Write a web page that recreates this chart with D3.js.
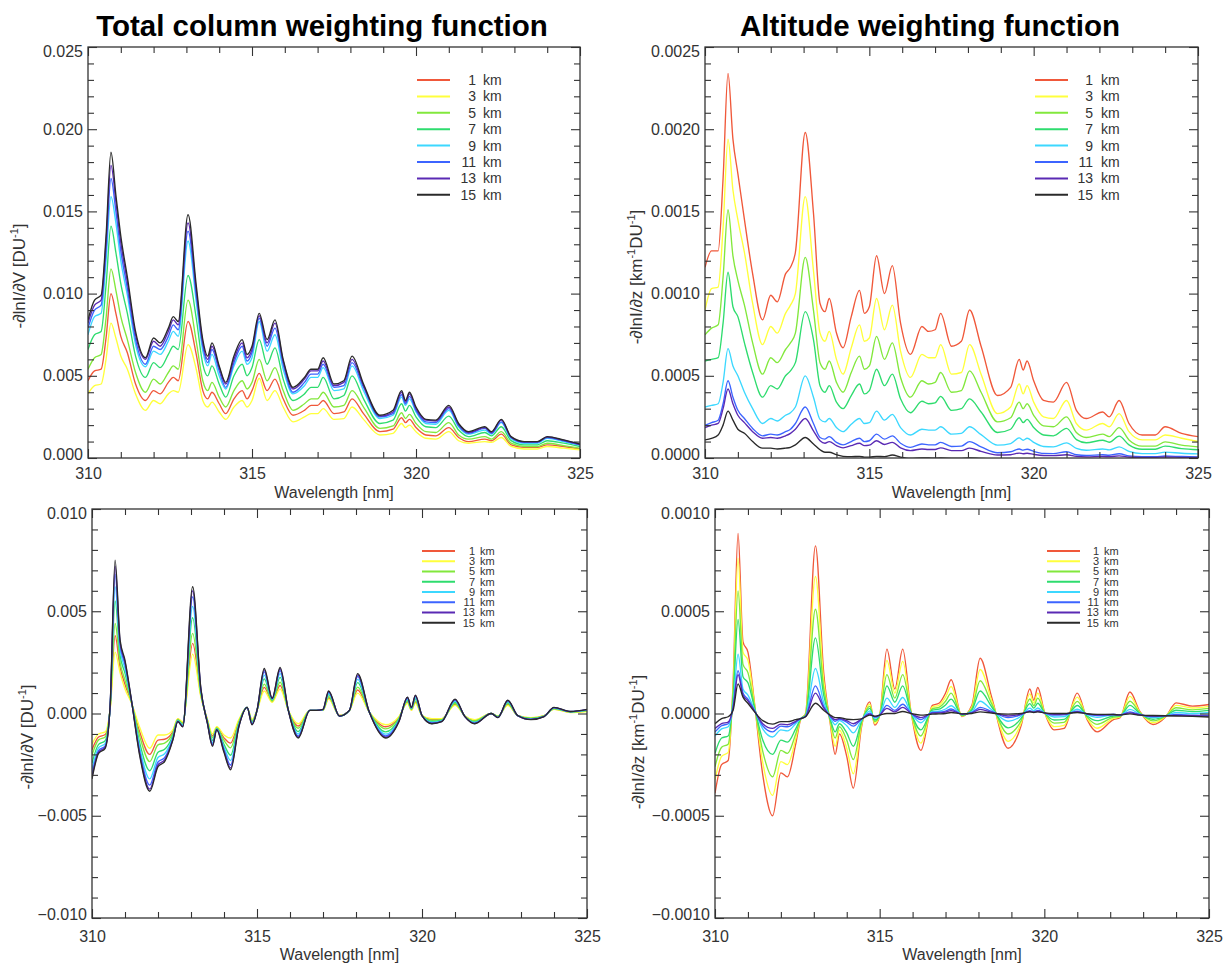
<!DOCTYPE html>
<html>
<head>
<meta charset="utf-8">
<script src="https://cdn.jsdelivr.net/npm/d3@7"></script>
<style>
  body { margin: 0; background: #fff; }
  svg { display: block; }
</style>
</head>
<body>
<svg id="chart" width="1227" height="963"></svg>
<script>
// Sample wavelengths (nm), shared by every spectrum below
const wavelength = [310.0, 310.2, 310.4, 310.55, 310.7, 310.85, 311.0, 311.2, 311.45, 311.75,
  312.0, 312.2, 312.45, 312.6, 312.75, 313.05, 313.3, 313.5, 313.65, 313.78,
  314.0, 314.2, 314.45, 314.7, 314.85, 315.0, 315.22, 315.46, 315.7, 315.95,
  316.25, 316.6, 316.8, 317.0, 317.17, 317.5, 317.8, 318.05, 318.4, 318.9,
  319.3, 319.56, 319.68, 319.8, 320.0, 320.3, 320.6, 321.0, 321.3, 321.6,
  322.1, 322.3, 322.6, 322.9, 323.3, 323.7, 324.0, 324.5, 325.0];

// Layer altitudes and their line colours
const kmLabels = ['1', '3', '5', '7', '9', '11', '13', '15'];
const lineColors = ['#f0583a', '#ffff3c', '#82e83c', '#2edc6e', '#3cd8ff', '#3c64ff', '#5a2ab4', '#2a2a2a'];

// Total column weighting function, -dlnI/dV  (units of 1e-3 DU^-1)
const colWf1 = [4.7, 5.3, 5.4, 7.3, 10.0, 8.8, 7.4, 6.4, 4.5, 3.5, 4.1, 3.9, 4.6, 4.9, 4.7, 8.3, 6.3, 4.1, 3.6, 4.0, 3.3, 2.7, 3.6, 4.1, 3.6, 4.1, 5.15, 4.1, 4.8, 3.6, 2.6, 2.9, 3.2, 3.2, 3.5, 2.7, 2.8, 3.6, 2.7, 1.6, 1.75, 2.45, 2.15, 2.35, 1.85, 1.4, 1.35, 1.85, 1.25, 1.0, 1.15, 1.05, 1.45, 0.8, 0.65, 0.65, 0.8, 0.7, 0.55];
const colWf3 = [3.9, 4.4, 4.5, 6.0, 8.2, 7.3, 6.2, 5.4, 3.9, 2.9, 3.5, 3.3, 3.9, 4.1, 4.0, 6.9, 5.4, 3.5, 3.1, 3.4, 2.8, 2.35, 3.1, 3.5, 3.1, 3.5, 4.85, 3.5, 4.1, 3.1, 2.2, 2.5, 2.7, 2.7, 3.0, 2.35, 2.4, 3.1, 2.35, 1.4, 1.5, 2.1, 1.85, 2.0, 1.6, 1.2, 1.15, 1.6, 1.05, 0.9, 1.0, 0.95, 1.25, 0.7, 0.55, 0.55, 0.7, 0.6, 0.5];
const colWf5 = [5.4, 6.1, 6.3, 8.5, 11.5, 10.2, 8.6, 7.2, 5.2, 4.0, 4.8, 4.5, 5.2, 5.6, 5.4, 9.6, 7.1, 4.7, 4.1, 4.6, 3.7, 3.1, 4.1, 4.7, 4.2, 4.6, 6.0, 4.7, 5.5, 4.1, 2.9, 3.3, 3.6, 3.6, 4.0, 3.1, 3.2, 4.1, 3.1, 1.8, 1.95, 2.75, 2.4, 2.65, 2.1, 1.6, 1.55, 2.15, 1.4, 1.15, 1.3, 1.15, 1.6, 0.9, 0.7, 0.7, 0.9, 0.75, 0.6];
const colWf7 = [6.6, 7.5, 7.7, 10.5, 14.1, 12.5, 10.6, 8.8, 6.2, 4.9, 5.8, 5.5, 6.3, 6.8, 6.6, 11.1, 8.5, 5.7, 5.0, 5.6, 4.5, 3.7, 5.0, 5.7, 5.0, 5.5, 7.2, 5.7, 6.7, 4.8, 3.5, 3.9, 4.3, 4.3, 4.9, 3.6, 3.8, 5.0, 3.6, 2.1, 2.3, 3.3, 2.85, 3.2, 2.5, 1.9, 1.85, 2.55, 1.7, 1.3, 1.55, 1.35, 1.9, 1.06, 0.8, 0.8, 1.05, 0.9, 0.7];
const colWf9 = [7.5, 8.6, 8.8, 12.0, 15.9, 14.3, 12.0, 9.9, 6.9, 5.55, 6.5, 6.3, 7.1, 7.7, 7.4, 13.2, 9.5, 6.5, 5.6, 6.3, 5.0, 4.2, 5.6, 6.5, 5.7, 6.1, 8.3, 6.5, 7.5, 5.4, 3.9, 4.4, 4.9, 4.9, 5.5, 4.1, 4.2, 5.6, 4.1, 2.4, 2.6, 3.7, 3.2, 3.6, 2.8, 2.1, 2.05, 2.9, 1.9, 1.45, 1.7, 1.45, 2.15, 1.18, 0.9, 0.9, 1.2, 1.0, 0.78];
const colWf11 = [7.9, 9.0, 9.3, 12.6, 17.0, 15.0, 12.6, 10.3, 7.2, 5.7, 6.8, 6.6, 7.4, 8.1, 7.8, 13.8, 9.9, 6.8, 5.8, 6.6, 5.3, 4.3, 5.8, 6.8, 5.9, 6.4, 8.5, 6.8, 7.9, 5.7, 4.0, 4.6, 5.1, 5.1, 5.7, 4.3, 4.4, 5.8, 4.3, 2.5, 2.7, 3.85, 3.3, 3.75, 2.9, 2.2, 2.15, 3.0, 1.95, 1.5, 1.8, 1.5, 2.2, 1.23, 0.95, 0.95, 1.25, 1.05, 0.8];
const colWf13 = [8.2, 9.3, 9.6, 13.1, 17.8, 15.6, 13.1, 10.7, 7.5, 6.0, 7.1, 6.8, 7.7, 8.4, 8.1, 14.3, 10.2, 7.0, 6.0, 6.8, 5.5, 4.5, 6.0, 7.0, 6.1, 6.6, 8.65, 7.0, 8.2, 5.9, 4.2, 4.8, 5.3, 5.3, 5.9, 4.4, 4.6, 6.0, 4.4, 2.55, 2.8, 4.0, 3.4, 3.9, 3.0, 2.3, 2.25, 3.1, 2.05, 1.55, 1.85, 1.55, 2.3, 1.27, 0.98, 0.98, 1.28, 1.08, 0.83];
const colWf15 = [8.4, 9.6, 9.9, 13.5, 18.6, 16.0, 13.5, 11.0, 7.7, 6.1, 7.3, 7.0, 7.9, 8.6, 8.3, 14.8, 10.5, 7.2, 6.2, 7.0, 5.6, 4.6, 6.2, 7.2, 6.3, 6.8, 8.8, 7.2, 8.4, 6.0, 4.3, 4.9, 5.4, 5.4, 6.1, 4.5, 4.7, 6.2, 4.5, 2.6, 2.9, 4.1, 3.5, 4.0, 3.1, 2.35, 2.3, 3.2, 2.1, 1.6, 1.9, 1.6, 2.35, 1.3, 1.0, 1.0, 1.3, 1.1, 0.85];

// Altitude weighting function, -dlnI/dz  (units of 1e-4 km^-1 DU^-1)
const altWf1 = [11.6, 12.6, 12.6, 17.0, 23.4, 19.4, 17.3, 14.5, 11.2, 8.4, 9.9, 9.5, 11.2, 11.6, 12.5, 19.8, 14.9, 9.4, 8.9, 9.7, 7.6, 6.7, 8.6, 10.2, 8.8, 9.2, 12.3, 10.0, 11.7, 8.2, 6.3, 8.0, 7.7, 7.8, 8.8, 6.8, 7.1, 9.0, 6.8, 3.8, 4.3, 6.0, 5.35, 5.9, 4.7, 3.5, 3.4, 4.6, 2.9, 2.4, 2.8, 2.5, 3.5, 2.1, 1.4, 1.4, 1.9, 1.5, 1.3];
const altWf3 = [9.0, 10.3, 10.4, 14.0, 19.4, 16.3, 14.5, 12.5, 9.4, 6.9, 8.0, 7.6, 8.8, 9.3, 10.0, 15.9, 11.4, 7.6, 7.1, 7.7, 6.0, 5.1, 6.7, 8.1, 7.1, 7.3, 9.7, 7.8, 9.3, 6.5, 4.9, 6.3, 6.1, 6.1, 6.9, 5.1, 5.2, 6.9, 5.1, 2.7, 3.1, 4.5, 3.9, 4.4, 3.4, 2.5, 2.4, 3.5, 2.1, 1.7, 2.1, 1.9, 2.7, 1.6, 1.1, 1.1, 1.4, 1.2, 1.0];
const altWf5 = [7.5, 7.9, 8.1, 11.0, 15.1, 12.3, 10.8, 9.3, 7.0, 5.1, 6.1, 5.8, 6.6, 7.0, 7.6, 12.2, 9.0, 5.8, 5.4, 5.9, 4.6, 4.0, 5.2, 6.2, 5.4, 5.6, 7.4, 6.0, 7.0, 4.9, 3.7, 4.7, 4.5, 4.6, 5.2, 4.0, 4.1, 5.3, 4.0, 2.2, 2.45, 3.4, 3.0, 3.3, 2.6, 1.95, 1.9, 2.5, 1.55, 1.25, 1.45, 1.3, 1.85, 1.1, 0.72, 0.72, 0.98, 0.78, 0.68];
const altWf7 = [5.9, 6.0, 6.1, 8.2, 11.3, 9.2, 8.6, 7.0, 5.2, 3.7, 4.4, 4.2, 5.0, 5.3, 5.8, 8.9, 7.2, 4.4, 4.0, 4.4, 3.4, 3.0, 3.8, 4.5, 3.9, 4.1, 5.4, 4.4, 5.1, 3.6, 2.75, 3.45, 3.3, 3.35, 3.75, 2.9, 3.0, 3.6, 2.8, 1.55, 1.75, 2.45, 2.15, 2.35, 1.85, 1.4, 1.35, 1.8, 1.12, 0.93, 1.08, 0.96, 1.33, 0.8, 0.53, 0.53, 0.72, 0.57, 0.5];
const altWf9 = [3.1, 3.2, 3.3, 4.6, 6.65, 5.6, 5.0, 4.0, 3.0, 2.1, 2.4, 2.25, 2.6, 2.75, 3.1, 5.0, 3.7, 2.35, 2.2, 2.4, 1.85, 1.6, 2.05, 2.4, 2.1, 2.15, 2.85, 2.3, 2.65, 1.85, 1.4, 1.75, 1.7, 1.7, 1.9, 1.45, 1.5, 1.9, 1.42, 0.78, 0.88, 1.22, 1.08, 1.2, 0.95, 0.7, 0.68, 0.92, 0.58, 0.47, 0.55, 0.49, 0.68, 0.4, 0.27, 0.27, 0.36, 0.29, 0.25];
const altWf11 = [2.0, 2.15, 2.3, 3.3, 4.7, 3.7, 2.9, 2.4, 1.8, 1.35, 1.45, 1.4, 1.6, 1.75, 2.1, 3.1, 2.1, 1.25, 1.15, 1.3, 0.95, 0.8, 1.0, 1.2, 1.0, 1.05, 1.45, 1.15, 1.35, 0.9, 0.65, 0.85, 0.8, 0.8, 0.95, 0.7, 0.72, 1.0, 0.68, 0.32, 0.38, 0.55, 0.48, 0.53, 0.4, 0.28, 0.27, 0.38, 0.2, 0.15, 0.2, 0.17, 0.26, 0.13, 0.08, 0.08, 0.12, 0.09, 0.07];
const altWf13 = [1.85, 2.0, 2.1, 3.0, 4.2, 3.3, 2.6, 2.15, 1.6, 1.2, 1.25, 1.2, 1.35, 1.5, 1.75, 2.4, 1.65, 1.05, 0.9, 1.0, 0.75, 0.62, 0.75, 0.9, 0.75, 0.78, 1.05, 0.82, 0.95, 0.62, 0.45, 0.55, 0.52, 0.52, 0.62, 0.45, 0.45, 0.6, 0.4, 0.18, 0.2, 0.3, 0.26, 0.29, 0.22, 0.15, 0.14, 0.2, 0.1, 0.07, 0.1, 0.08, 0.13, 0.06, 0.04, 0.04, 0.06, 0.04, 0.03];
const altWf15 = [1.1, 1.2, 1.4, 2.0, 2.85, 2.3, 1.75, 1.5, 1.0, 0.6, 0.6, 0.55, 0.6, 0.65, 0.8, 1.25, 0.85, 0.5, 0.35, 0.35, 0.2, 0.1, 0.08, 0.1, 0.05, 0.05, 0.1, 0.08, 0.18, 0.05, -0.03, 0.0, 0.0, -0.01, 0.0, -0.02, -0.02, 0.0, -0.03, -0.05, -0.05, -0.05, -0.05, -0.05, -0.05, -0.05, -0.05, -0.05, -0.05, -0.05, -0.05, -0.05, -0.05, -0.05, -0.05, -0.05, -0.05, -0.05, -0.05];

// Differential total column weighting function  (units of 1e-3 DU^-1)
const colDiff1 = [-1.77, -1.15, -1.03, 0.23, 3.8, 2.26, 1.42, 0.52, -0.92, -2.0, -1.3, -1.26, -0.88, -0.27, -0.44, 3.43, 0.86, -0.33, -1.1, -0.67, -1.19, -1.45, -0.36, 0.3, -0.34, 0.15, 1.28, 0.58, 1.37, 0.15, -0.61, 0.15, 0.15, 0.16, 0.76, -0.1, 0.15, 1.15, 0.08, -0.65, -0.19, 0.55, 0.17, 0.56, -0.1, -0.29, -0.27, 0.45, -0.12, -0.33, 0.0, -0.13, 0.44, -0.1, -0.22, -0.11, 0.22, 0.06, 0.12];
const colDiff3 = [-1.5, -1.0, -0.9, 0.2, 3.0, 2.0, 1.2, 0.5, -0.7, -1.7, -1.05, -1.05, -0.8, -0.25, -0.4, 2.9, 0.8, -0.3, -1.0, -0.65, -1.05, -1.2, -0.3, 0.3, -0.3, 0.15, 1.1, 0.55, 1.2, 0.15, -0.5, 0.15, 0.15, 0.15, 0.7, -0.1, 0.15, 1.0, 0.08, -0.55, -0.15, 0.5, 0.15, 0.5, -0.1, -0.25, -0.25, 0.4, -0.12, -0.3, 0.0, -0.12, 0.4, -0.1, -0.2, -0.1, 0.2, 0.05, 0.1];
const colDiff5 = [-2.03, -1.29, -1.15, 0.26, 4.4, 2.5, 1.63, 0.53, -1.13, -2.35, -1.53, -1.45, -0.96, -0.3, -0.48, 3.92, 0.92, -0.36, -1.19, -0.7, -1.31, -1.68, -0.41, 0.3, -0.38, 0.15, 1.44, 0.61, 1.53, 0.15, -0.72, 0.15, 0.15, 0.17, 0.82, -0.11, 0.15, 1.29, 0.08, -0.75, -0.23, 0.59, 0.2, 0.62, -0.1, -0.33, -0.3, 0.49, -0.13, -0.36, 0.0, -0.14, 0.48, -0.1, -0.23, -0.12, 0.23, 0.07, 0.13];
const colDiff7 = [-2.42, -1.51, -1.33, 0.31, 5.5, 2.86, 1.96, 0.55, -1.46, -2.8, -1.89, -1.75, -1.07, -0.33, -0.54, 4.68, 1.02, -0.41, -1.32, -0.73, -1.51, -2.04, -0.49, 0.3, -0.44, 0.15, 1.69, 0.66, 1.77, 0.15, -0.88, 0.15, 0.15, 0.18, 0.92, -0.12, 0.15, 1.51, 0.08, -0.9, -0.29, 0.66, 0.23, 0.72, -0.1, -0.39, -0.33, 0.56, -0.14, -0.41, 0.0, -0.16, 0.54, -0.1, -0.25, -0.13, 0.25, 0.08, 0.15];
const colDiff9 = [-2.71, -1.67, -1.47, 0.34, 6.2, 3.14, 2.19, 0.57, -1.69, -3.2, -2.15, -1.97, -1.16, -0.36, -0.58, 5.24, 1.08, -0.44, -1.43, -0.76, -1.65, -2.3, -0.55, 0.3, -0.48, 0.15, 1.88, 0.69, 1.95, 0.15, -1.0, 0.15, 0.15, 0.19, 0.98, -0.12, 0.15, 1.67, 0.08, -1.01, -0.33, 0.71, 0.26, 0.78, -0.1, -0.43, -0.36, 0.61, -0.14, -0.44, 0.0, -0.18, 0.58, -0.1, -0.27, -0.14, 0.27, 0.09, 0.17];
const colDiff11 = [-2.95, -1.81, -1.58, 0.37, 6.8, 3.36, 2.39, 0.59, -1.89, -3.5, -2.37, -2.16, -1.23, -0.38, -0.61, 5.7, 1.14, -0.47, -1.51, -0.78, -1.77, -2.52, -0.6, 0.3, -0.51, 0.15, 2.04, 0.72, 2.09, 0.15, -1.1, 0.15, 0.15, 0.19, 1.04, -0.13, 0.15, 1.81, 0.08, -1.1, -0.36, 0.76, 0.28, 0.84, -0.1, -0.46, -0.38, 0.66, -0.15, -0.47, 0.0, -0.19, 0.61, -0.1, -0.29, -0.14, 0.29, 0.09, 0.19];
const colDiff13 = [-3.1, -1.89, -1.65, 0.39, 7.2, 3.5, 2.52, 0.59, -2.02, -3.7, -2.51, -2.27, -1.27, -0.39, -0.64, 6.0, 1.18, -0.49, -1.56, -0.79, -1.85, -2.66, -0.63, 0.3, -0.54, 0.15, 2.13, 0.74, 2.19, 0.15, -1.16, 0.15, 0.15, 0.2, 1.08, -0.13, 0.15, 1.89, 0.08, -1.16, -0.39, 0.78, 0.29, 0.88, -0.1, -0.49, -0.39, 0.68, -0.15, -0.49, 0.0, -0.2, 0.64, -0.1, -0.29, -0.15, 0.29, 0.1, 0.19];
const colDiff15 = [-3.2, -1.95, -1.7, 0.4, 7.5, 3.6, 2.6, 0.6, -2.1, -3.8, -2.6, -2.35, -1.3, -0.4, -0.65, 6.2, 1.2, -0.5, -1.6, -0.8, -1.9, -2.75, -0.65, 0.3, -0.55, 0.15, 2.2, 0.75, 2.25, 0.15, -1.2, 0.15, 0.15, 0.2, 1.1, -0.13, 0.15, 1.95, 0.08, -1.2, -0.4, 0.8, 0.3, 0.9, -0.1, -0.5, -0.4, 0.7, -0.15, -0.5, 0.0, -0.2, 0.65, -0.1, -0.3, -0.15, 0.3, 0.1, 0.2];

// Differential altitude weighting function  (units of 1e-4 km^-1 DU^-1)
const altDiff1 = [-3.9, -2.5, -2.3, 1.5, 8.8, 3.5, 3.0, 0.5, -3.0, -5.0, -2.9, -3.1, -1.5, -0.3, 0.0, 8.2, 2.0, -0.5, -2.0, -1.0, -2.1, -3.65, -0.65, 0.57, -0.57, -0.1, 3.15, 1.2, 3.15, 0.1, -1.8, 0.4, 0.5, 1.0, 1.65, -0.15, 0.4, 2.7, 0.8, -1.7, -0.57, 1.2, 0.65, 1.27, 0.1, -0.8, -0.73, 1.0, -0.3, -0.9, -0.3, -0.2, 1.05, 0.1, -0.54, -0.13, 0.52, 0.36, 0.44];
const altDiff3 = [-3.25, -2.1, -1.9, 1.25, 7.6, 3.0, 2.6, 0.45, -2.4, -4.0, -2.35, -2.5, -1.25, -0.28, -0.03, 6.7, 1.6, -0.42, -1.6, -0.82, -1.7, -2.95, -0.55, 0.45, -0.48, -0.09, 2.6, 1.0, 2.55, 0.08, -1.45, 0.32, 0.4, 0.8, 1.32, -0.12, 0.32, 2.15, 0.64, -1.36, -0.45, 0.96, 0.52, 1.0, 0.08, -0.64, -0.58, 0.8, -0.24, -0.72, -0.24, -0.17, 0.84, 0.07, -0.45, -0.12, 0.4, 0.27, 0.35];
const altDiff5 = [-2.6, -1.65, -1.5, 1.0, 6.0, 2.4, 2.0, 0.35, -1.85, -3.1, -1.8, -1.95, -1.0, -0.27, -0.06, 5.1, 1.25, -0.35, -1.2, -0.65, -1.3, -2.25, -0.45, 0.35, -0.4, -0.09, 1.9, 0.75, 1.9, 0.06, -1.1, 0.24, 0.3, 0.6, 1.0, -0.1, 0.24, 1.6, 0.48, -1.0, -0.34, 0.71, 0.38, 0.75, 0.06, -0.47, -0.43, 0.59, -0.18, -0.53, -0.18, -0.14, 0.6, 0.04, -0.36, -0.11, 0.28, 0.18, 0.25];
const altDiff7 = [-1.95, -1.2, -1.1, 0.72, 4.6, 1.8, 1.5, 0.28, -1.3, -2.0, -1.3, -1.4, -0.75, -0.26, -0.09, 3.7, 0.9, -0.28, -0.9, -0.5, -0.95, -1.6, -0.38, 0.25, -0.32, -0.09, 1.35, 0.55, 1.35, 0.05, -0.8, 0.17, 0.21, 0.42, 0.7, -0.08, 0.17, 1.1, 0.33, -0.7, -0.23, 0.48, 0.26, 0.5, 0.04, -0.32, -0.29, 0.39, -0.12, -0.35, -0.12, -0.11, 0.4, 0.0, -0.28, -0.11, 0.16, 0.09, 0.15];
const altDiff9 = [-1.1, -0.75, -0.65, 0.42, 2.9, 1.2, 0.9, 0.18, -0.75, -1.15, -0.8, -0.85, -0.5, -0.25, -0.12, 2.2, 0.55, -0.2, -0.55, -0.35, -0.6, -0.95, -0.32, 0.12, -0.24, -0.08, 0.75, 0.3, 0.78, 0.03, -0.45, 0.09, 0.11, 0.22, 0.38, -0.05, 0.09, 0.6, 0.18, -0.38, -0.12, 0.26, 0.14, 0.27, 0.03, -0.17, -0.15, 0.21, -0.06, -0.19, -0.07, -0.08, 0.2, -0.03, -0.2, -0.11, 0.05, 0.0, 0.05];
const altDiff11 = [-0.9, -0.6, -0.5, 0.33, 2.1, 1.0, 0.7, 0.14, -0.6, -0.9, -0.62, -0.65, -0.42, -0.25, -0.14, 1.35, 0.35, -0.15, -0.38, -0.28, -0.42, -0.62, -0.28, 0.02, -0.18, -0.08, 0.4, 0.15, 0.45, 0.02, -0.3, 0.05, 0.06, 0.12, 0.22, -0.04, 0.05, 0.3, 0.1, -0.2, -0.06, 0.14, 0.08, 0.15, 0.03, -0.08, -0.07, 0.11, -0.03, -0.1, -0.05, -0.07, 0.08, -0.06, -0.15, -0.11, -0.05, -0.08, -0.1];
const altDiff13 = [-0.73, -0.5, -0.42, 0.28, 1.9, 0.9, 0.62, 0.12, -0.5, -0.73, -0.52, -0.55, -0.38, -0.25, -0.15, 1.0, 0.28, -0.12, -0.3, -0.24, -0.35, -0.5, -0.27, -0.03, -0.15, -0.08, 0.25, 0.08, 0.3, 0.01, -0.2, 0.02, 0.03, 0.07, 0.14, -0.03, 0.03, 0.2, 0.06, -0.12, -0.03, 0.1, 0.06, 0.11, 0.03, -0.04, -0.03, 0.08, -0.02, -0.07, -0.05, -0.07, 0.03, -0.07, -0.13, -0.11, -0.09, -0.11, -0.13];
const altDiff15 = [-0.5, -0.25, -0.16, 0.16, 1.45, 0.8, 0.5, 0.08, -0.35, -0.52, -0.4, -0.4, -0.3, -0.25, -0.16, 0.5, 0.16, -0.08, -0.2, -0.2, -0.28, -0.3, -0.26, -0.08, -0.13, -0.08, 0.0, 0.0, 0.1, 0.0, -0.08, -0.03, -0.02, 0.0, 0.05, -0.02, 0.0, 0.08, 0.02, -0.03, 0.0, 0.08, 0.05, 0.08, 0.03, 0.0, 0.0, 0.05, -0.01, -0.04, -0.05, -0.07, -0.02, -0.08, -0.1, -0.11, -0.12, -0.14, -0.17];

// Axis tick labels
const xMajorTicks = [310, 315, 320, 325];

const fontFamily = '"Liberation Sans", Arial, Helvetica, sans-serif';
const inkColor = '#333';

const titleDV = [{ t: '-\u2202lnI/\u2202V [DU' }, { t: '-1', sup: true }, { t: ']' }];
const titleDz = [{ t: '-\u2202lnI/\u2202z [km' }, { t: '-1', sup: true }, { t: 'DU' }, { t: '-1', sup: true }, { t: ']' }];

const panels = [
  {
    series: [colWf1, colWf3, colWf5, colWf7, colWf9, colWf11, colWf13, colWf15], unit: 1e-3,
    left: 88, right: 580, top: 47, bottom: 458,
    yMin: 0, yMax: 0.025, yStep: 0.005, yMinor: 0.001, digits: 3,
    yTitle: titleDV, yTitleX: 25, yTitleY: 276,
    xLabelY: 479, xTitleY: 498,
    legend: { x0: 417, x1: 450, numEnd: 476, kmStart: 483, y0: 80, dy: 16.4, font: 14 }
  },
  {
    series: [altWf1, altWf3, altWf5, altWf7, altWf9, altWf11, altWf13, altWf15], unit: 1e-4,
    left: 705, right: 1198, top: 47, bottom: 458,
    yMin: 0, yMax: 0.0025, yStep: 0.0005, yMinor: 0.0001, digits: 4,
    yTitle: titleDz, yTitleX: 642, yTitleY: 277,
    xLabelY: 479, xTitleY: 498,
    legend: { x0: 1035, x1: 1068, numEnd: 1093, kmStart: 1101, y0: 80, dy: 16.4, font: 14 }
  },
  {
    series: [colDiff1, colDiff3, colDiff5, colDiff7, colDiff9, colDiff11, colDiff13, colDiff15], unit: 1e-3,
    left: 92, right: 587, top: 509, bottom: 918,
    yMin: -0.010, yMax: 0.010, yStep: 0.005, yMinor: 0.001, digits: 3,
    yTitle: titleDV, yTitleX: 33, yTitleY: 737,
    xLabelY: 942, xTitleY: 960,
    legend: { x0: 422, x1: 455, numEnd: 475, kmStart: 480, y0: 551, dy: 10.25, font: 11 }
  },
  {
    series: [altDiff1, altDiff3, altDiff5, altDiff7, altDiff9, altDiff11, altDiff13, altDiff15], unit: 1e-4,
    left: 715, right: 1209, top: 509, bottom: 918,
    yMin: -0.0010, yMax: 0.0010, yStep: 0.0005, yMinor: 0.0001, digits: 4,
    yTitle: titleDz, yTitleX: 644, yTitleY: 742,
    xLabelY: 942, xTitleY: 960,
    legend: { x0: 1047, x1: 1080, numEnd: 1099, kmStart: 1104, y0: 551, dy: 10.25, font: 11 }
  }
];

const svg = d3.select('#chart');

// Panel titles
svg.append('text').attr('x', 322).attr('y', 36).attr('text-anchor', 'middle')
  .attr('font-family', fontFamily).attr('font-weight', 'bold').attr('font-size', 29.5).attr('fill', '#000')
  .text('Total column weighting function');
svg.append('text').attr('x', 930).attr('y', 36).attr('text-anchor', 'middle')
  .attr('font-family', fontFamily).attr('font-weight', 'bold').attr('font-size', 29.5).attr('fill', '#000')
  .text('Altitude weighting function');

const snap = v => +v.toFixed(7);

panels.forEach((p, pi) => {
  const x = d3.scaleLinear().domain([310, 325]).range([p.left, p.right]);
  const y = d3.scaleLinear().domain([p.yMin, p.yMax]).range([p.bottom, p.top]);
  const g = svg.append('g');

  const clipId = 'plot-clip-' + pi;
  svg.append('clipPath').attr('id', clipId).append('rect')
    .attr('x', p.left).attr('y', p.top)
    .attr('width', p.right - p.left).attr('height', p.bottom - p.top);

  // Spectra
  const line = d3.line()
    .x((d, i) => x(wavelength[i]))
    .y(d => y(d * p.unit))
    .curve(d3.curveMonotoneX);
  g.append('g').attr('clip-path', `url(#${clipId})`)
    .selectAll('path').data(p.series).join('path')
    .attr('d', line)
    .attr('fill', 'none')
    .attr('stroke', (d, i) => lineColors[i])
    .attr('stroke-width', 1.35)
    .attr('stroke-linejoin', 'round');

  // Tick positions
  const xMinorTicks = d3.range(311, 325).filter(v => v % 5 !== 0);
  const nMajor = Math.round((p.yMax - p.yMin) / p.yStep);
  const yMajorTicks = d3.range(nMajor + 1).map(i => snap(p.yMin + i * p.yStep));
  const nMinor = Math.round((p.yMax - p.yMin) / p.yMinor);
  const yMinorTicks = d3.range(nMinor + 1).map(i => snap(p.yMin + i * p.yMinor))
    .filter(v => !yMajorTicks.some(m => Math.abs(m - v) < 1e-9));
  const fmt = d3.format(`.${p.digits}f`);

  function addAxis(gen, tx, ty) {
    const a = g.append('g').attr('transform', `translate(${tx},${ty})`).call(gen);
    a.select('.domain').remove();
    a.attr('font-family', fontFamily).attr('font-size', 16);
    a.selectAll('line').attr('stroke', inkColor).attr('stroke-width', 1.1);
    a.selectAll('text').attr('fill', inkColor);
    return a;
  }

  // Bottom axis with labels
  const bx = addAxis(d3.axisBottom(x).tickValues(xMajorTicks).tickSize(-9).tickFormat(d3.format('d')), 0, p.bottom);
  bx.selectAll('text').attr('dy', null).attr('y', p.xLabelY - p.bottom);
  addAxis(d3.axisBottom(x).tickValues(xMinorTicks).tickSize(-6).tickFormat(''), 0, p.bottom);
  // Top axis, ticks only
  addAxis(d3.axisTop(x).tickValues(xMajorTicks).tickSize(-9).tickFormat(''), 0, p.top);
  addAxis(d3.axisTop(x).tickValues(xMinorTicks).tickSize(-6).tickFormat(''), 0, p.top);
  // Left axis with labels
  const ly = addAxis(d3.axisLeft(y).tickValues(yMajorTicks).tickSize(-9).tickPadding(5).tickFormat(fmt), p.left, 0);
  ly.selectAll('text').attr('y', d => Math.abs(d - p.yMax) < 1e-9 ? 4 : (Math.abs(d - p.yMin) < 1e-9 ? -4 : 0));
  addAxis(d3.axisLeft(y).tickValues(yMinorTicks).tickSize(-6).tickFormat(''), p.left, 0);
  // Right axis, ticks only
  addAxis(d3.axisRight(y).tickValues(yMajorTicks).tickSize(-9).tickFormat(''), p.right, 0);
  addAxis(d3.axisRight(y).tickValues(yMinorTicks).tickSize(-6).tickFormat(''), p.right, 0);

  // Frame
  g.append('rect')
    .attr('x', p.left).attr('y', p.top)
    .attr('width', p.right - p.left).attr('height', p.bottom - p.top)
    .attr('fill', 'none').attr('stroke', inkColor).attr('stroke-width', 1.3);

  // Axis titles
  g.append('text')
    .attr('x', (p.left + p.right) / 2).attr('y', p.xTitleY)
    .attr('text-anchor', 'middle').attr('font-family', fontFamily).attr('font-size', 16).attr('fill', inkColor)
    .text('Wavelength [nm]');

  const yt = g.append('text')
    .attr('transform', `translate(${p.yTitleX},${p.yTitleY}) rotate(-90)`)
    .attr('text-anchor', 'middle').attr('font-family', fontFamily).attr('font-size', 17).attr('fill', inkColor);
  let raised = false;
  p.yTitle.forEach(part => {
    const ts = yt.append('tspan').text(part.t);
    if (part.sup) {
      ts.attr('font-size', 11).attr('dy', -7);
      raised = true;
    } else if (raised) {
      ts.attr('dy', 7);
      raised = false;
    }
  });

  // Legend
  const L = p.legend;
  const lg = g.append('g').attr('font-family', fontFamily).attr('font-size', L.font).attr('fill', inkColor);
  kmLabels.forEach((k, i) => {
    const ly0 = L.y0 + i * L.dy;
    lg.append('line').attr('x1', L.x0).attr('x2', L.x1).attr('y1', ly0).attr('y2', ly0)
      .attr('stroke', lineColors[i]).attr('stroke-width', 2);
    lg.append('text').attr('x', L.numEnd).attr('y', ly0).attr('dy', '0.35em').attr('text-anchor', 'end').text(k);
    lg.append('text').attr('x', L.kmStart).attr('y', ly0).attr('dy', '0.35em').text('km');
  });
});
</script>
</body>
</html>
